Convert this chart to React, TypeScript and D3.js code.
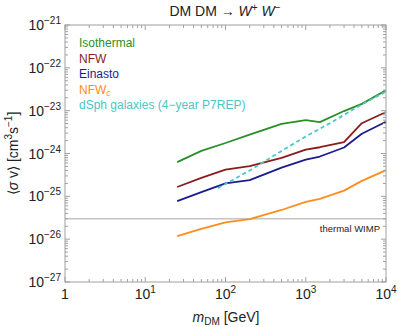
import React from 'react';
import * as d3 from 'd3';

// DM mass grid [GeV] and limits <sigma v> [cm^3 s^-1]
const masses = [25, 50, 100, 200, 500, 1000, 1500, 3000, 5000, 10000];
const isothermal = [6.3e-25, 1.15e-24, 1.76e-24, 2.75e-24, 4.9e-24, 6.0e-24, 5.4e-24, 9.8e-24, 1.44e-23, 3.0e-23];
const nfw = [1.65e-25, 2.7e-25, 4.2e-25, 5.1e-25, 7.9e-25, 1.23e-24, 1.4e-24, 1.85e-24, 5.1e-24, 9.3e-24];
const einasto = [7.7e-26, 1.25e-25, 2.0e-25, 2.4e-25, 4.7e-25, 7.2e-25, 8.5e-25, 1.38e-24, 2.9e-24, 5.5e-24];
const nfwc = [1.18e-26, 1.73e-26, 2.46e-26, 2.95e-26, 4.8e-26, 7.4e-26, 8.7e-26, 1.36e-25, 2.3e-25, 4.1e-25];

const dsphMasses = [80.4, 100, 200, 500, 1000, 2000, 5000, 10000];
const dsph = [1.55e-25, 1.95e-25, 4.0e-25, 1.15e-24, 2.5e-24, 5.1e-24, 1.4e-23, 2.8e-23];

const thermalWimp = 3e-26;

const xTickExps = [0, 1, 2, 3, 4];
const yTickExps = [-27, -26, -25, -24, -23, -22, -21];

const W = 399, H = 327;
const left = 65, right = 386, top = 25, bottom = 282;
const axisColor = '#a0a0a0';
const font = 'Liberation Sans, Arial, sans-serif';

const series = [
  { name: 'Isothermal', color: '#2a8f2a', xs: masses, ys: isothermal, dash: null },
  { name: 'NFW', color: '#8c1c1c', xs: masses, ys: nfw, dash: null },
  { name: 'Einasto', color: '#1c1c8c', xs: masses, ys: einasto, dash: null },
  { name: 'NFW_c', color: '#ff8c1c', xs: masses, ys: nfwc, dash: null },
  { name: 'dSph galaxies (4\u2212year P7REP)', color: '#4cc6c6', xs: dsphMasses, ys: dsph, dash: '4,3' },
];

const App = () => {
  const x = d3.scaleLog().domain([1, 1e4]).range([left, right]);
  const y = d3.scaleLog().domain([1e-27, 1e-21]).range([bottom, top]);

  const line = d3.line<[number, number]>().x(d => x(d[0])).y(d => y(d[1]));

  const xMinor: number[] = [];
  xTickExps.slice(0, -1).forEach(e => { for (let k = 2; k < 10; k++) xMinor.push(k * Math.pow(10, e)); });
  const yMinor: number[] = [];
  yTickExps.slice(0, -1).forEach(e => { for (let k = 2; k < 10; k++) yMinor.push(k * Math.pow(10, e)); });

  const legendY = [47, 62.5, 78, 93.5, 109];

  return (
    <svg width={W} height={H} style={{ position: 'absolute', left: 0, top: 0 }} fontFamily={font}>
      {/* title */}
      <text x={225} y={16} textAnchor="middle" fontSize={14} fill="#222">
        DM DM {'\u2192'} <tspan fontStyle="italic">W</tspan><tspan dy={-5} fontSize={10}>+</tspan>
        <tspan dy={5}> </tspan><tspan fontStyle="italic">W</tspan><tspan dy={-5} fontSize={10}>{'\u2212'}</tspan>
      </text>

      {/* thermal WIMP line */}
      <line x1={left} x2={right} y1={y(thermalWimp)} y2={y(thermalWimp)} stroke="#c4c4c4" strokeWidth={1.6} />
      <text x={380} y={232} textAnchor="end" fontSize={9.5} fill="#222">thermal WIMP</text>

      {/* curves */}
      {series.map(s => (
        <path key={s.name} d={line(s.xs.map((m, i) => [m, s.ys[i]] as [number, number])) || ''}
          fill="none" stroke={s.color} strokeWidth={1.8} strokeDasharray={s.dash || undefined} strokeLinejoin="round" />
      ))}

      {/* frame */}
      <rect x={left} y={top} width={right - left} height={bottom - top} fill="none" stroke={axisColor} strokeWidth={1} />

      {/* x ticks (bottom and top, inward) */}
      {xTickExps.map(e => {
        const px = x(Math.pow(10, e));
        return (
          <g key={'xt' + e}>
            <line x1={px} x2={px} y1={bottom} y2={bottom - 5} stroke={axisColor} />
            <line x1={px} x2={px} y1={top} y2={top + 5} stroke={axisColor} />
          </g>
        );
      })}
      {xMinor.map(v => (
        <g key={'xm' + v}>
          <line x1={x(v)} x2={x(v)} y1={bottom} y2={bottom - 3} stroke={axisColor} />
          <line x1={x(v)} x2={x(v)} y1={top} y2={top + 3} stroke={axisColor} />
        </g>
      ))}

      {/* y ticks (left and right, inward) */}
      {yTickExps.map(e => {
        const py = y(Math.pow(10, e));
        return (
          <g key={'yt' + e}>
            <line x1={left} x2={left + 5} y1={py} y2={py} stroke={axisColor} />
            <line x1={right} x2={right - 5} y1={py} y2={py} stroke={axisColor} />
          </g>
        );
      })}
      {yMinor.map(v => (
        <g key={'ym' + v}>
          <line x1={left} x2={left + 3} y1={y(v)} y2={y(v)} stroke={axisColor} />
          <line x1={right} x2={right - 3} y1={y(v)} y2={y(v)} stroke={axisColor} />
        </g>
      ))}

      {/* x tick labels */}
      {xTickExps.map(e => (
        <text key={'xl' + e} x={x(Math.pow(10, e))} y={299} textAnchor="middle" fontSize={14} fill="#222">
          {e === 0 ? '1' : <>10<tspan dy={-6} fontSize={10}>{e}</tspan></>}
        </text>
      ))}

      {/* y tick labels */}
      {yTickExps.map(e => (
        <text key={'yl' + e} x={61} y={y(Math.pow(10, e)) + 5} textAnchor="end" fontSize={14} fill="#222">
          10<tspan dy={-6} fontSize={10}>{'\u2212' + Math.abs(e)}</tspan>
        </text>
      ))}

      {/* axis titles */}
      <text x={226} y={322} textAnchor="middle" fontSize={14} fill="#222">
        <tspan fontStyle="italic">m</tspan><tspan dy={3} fontSize={10}>DM</tspan><tspan dy={-3}> [GeV]</tspan>
      </text>
      <text transform={`translate(18, ${(top + bottom) / 2}) rotate(-90)`} textAnchor="middle" fontSize={14} fill="#222">
        {'\u27E8'}<tspan fontStyle="italic">{'\u03C3'}</tspan> v{'\u27E9'} [cm<tspan dy={-6} fontSize={10}>3</tspan>
        <tspan dy={6}>s</tspan><tspan dy={-6} fontSize={10}>{'\u2212'}1</tspan><tspan dy={6}>]</tspan>
      </text>

      {/* legend */}
      {series.map((s, i) => (
        <text key={'lg' + i} x={79} y={legendY[i]} fontSize={12} fill={s.color}>
          {s.name === 'NFW_c' ? <>NFW<tspan dy={2} fontSize={8.5} fontStyle="italic">c</tspan></> : s.name}
        </text>
      ))}
    </svg>
  );
};

export default App;
